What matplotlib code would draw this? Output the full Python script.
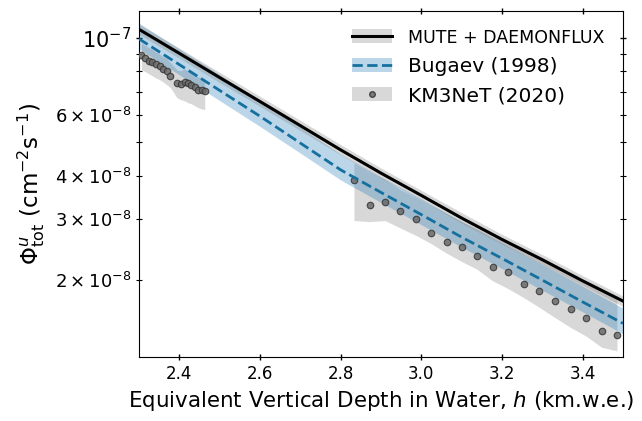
import numpy as np
import matplotlib
matplotlib.use("Agg")
import matplotlib.pyplot as plt
from matplotlib import ticker
from matplotlib.patches import Patch
from matplotlib.lines import Line2D

# model curves, flux in units of 1e-8 cm^-2 s^-1
depth = [2.3, 2.4, 2.5, 2.6, 2.7, 2.8, 2.9, 3.0, 3.1, 3.2, 3.3, 3.4, 3.5]
mute_flux = [10.58, 9.02, 7.68, 6.55, 5.58, 4.75, 4.07, 3.51, 3.02, 2.62, 2.29, 1.99, 1.74]
mute_hi = [10.95, 9.34, 7.95, 6.78, 5.78, 4.92, 4.21, 3.63, 3.13, 2.71, 2.37, 2.06, 1.80]
mute_lo = [10.24, 8.73, 7.43, 6.34, 5.40, 4.60, 3.94, 3.40, 2.92, 2.54, 2.22, 1.93, 1.68]

bugaev_flux = [9.93, 8.37, 7.05, 5.94, 4.97, 4.16, 3.58, 3.09, 2.66, 2.31, 2.00, 1.73, 1.50]
bugaev_hi = [11.02, 9.29, 7.83, 6.59, 5.52, 4.62, 3.97, 3.43, 2.95, 2.56, 2.22, 1.92, 1.66]
bugaev_lo = [9.28, 7.82, 6.59, 5.55, 4.65, 3.89, 3.35, 2.89, 2.49, 2.16, 1.87, 1.62, 1.40]

# KM3NeT (2020), two depth ranges
km3_x1 = [2.306, 2.316, 2.325, 2.333, 2.341, 2.351, 2.359, 2.369, 2.378,
          2.394, 2.403, 2.413, 2.421, 2.430, 2.438, 2.446, 2.455, 2.463]
km3_y1 = [8.93, 8.74, 8.60, 8.49, 8.40, 8.27, 8.13, 8.00, 7.77,
          7.43, 7.37, 7.48, 7.41, 7.32, 7.19, 7.08, 7.05, 7.04]
km3_hi1 = [9.67, 9.48, 9.36, 9.24, 9.11, 8.99, 8.82, 8.70, 8.47,
           8.09, 8.03, 8.14, 8.03, 7.98, 7.82, 7.72, 7.67, 7.62]
km3_lo1 = [8.09, 7.98, 7.87, 7.77, 7.67, 7.57, 7.47, 7.32, 7.18,
           6.72, 6.63, 6.58, 6.50, 6.45, 6.37, 6.29, 6.24, 6.20]

km3_x2 = [2.833, 2.872, 2.910, 2.947, 2.987, 3.024, 3.063, 3.101, 3.138,
          3.177, 3.215, 3.254, 3.292, 3.331, 3.370, 3.408, 3.447, 3.485]
km3_y2 = [3.88, 3.30, 3.37, 3.16, 3.00, 2.74, 2.58, 2.49, 2.35,
          2.18, 2.11, 1.95, 1.86, 1.74, 1.65, 1.56, 1.43, 1.39]
km3_hi2 = [4.36, 4.11, 3.90, 3.65, 3.46, 3.28, 3.11, 2.95, 2.82,
           2.67, 2.55, 2.42, 2.31, 2.19, 2.08, 1.97, 1.87, 1.78]
km3_lo2 = [2.97, 2.95, 2.97, 2.83, 2.69, 2.55, 2.39, 2.26, 2.15,
           1.99, 1.89, 1.78, 1.67, 1.56, 1.46, 1.38, 1.28, 1.25]

labels = ["MUTE + DAEMONFLUX", "Bugaev (1998)", "KM3NeT (2020)"]

scale = 1e-8
blue_line = "#15709f"
blue_band = "#1f78b4"

fig = plt.figure(figsize=(6.42, 4.21), dpi=100)
ax = fig.add_axes([0.2165, 0.152, 0.7539, 0.8219])

# KM3NeT
for x, y, lo, hi in [(km3_x1, km3_y1, km3_lo1, km3_hi1),
                     (km3_x2, km3_y2, km3_lo2, km3_hi2)]:
    ax.fill_between(x, np.array(lo) * scale, np.array(hi) * scale,
                    color="grey", alpha=0.3, lw=0, zorder=1)
    ax.plot(x, np.array(y) * scale, "o", ms=4.7, mfc="#6a6a6a", mec="#333333",
            mew=0.8, alpha=0.85, zorder=3)

# Bugaev
ax.fill_between(depth, np.array(bugaev_lo) * scale, np.array(bugaev_hi) * scale,
                color=blue_band, alpha=0.3, lw=0, zorder=2)
ax.plot(depth, np.array(bugaev_flux) * scale, color=blue_line, lw=2, ls="--", zorder=4)

# MUTE
ax.fill_between(depth, np.array(mute_lo) * scale, np.array(mute_hi) * scale,
                color="grey", alpha=0.3, lw=0, zorder=2)
ax.plot(depth, np.array(mute_flux) * scale, color="black", lw=2.2, zorder=5)

ax.set_yscale("log")
ax.set_xlim(2.3, 3.5)
ax.set_ylim(1.2e-8, 1.195e-7)
ax.yaxis.set_minor_formatter(ticker.LogFormatterSciNotation(minor_thresholds=(2, 0.4)))

ax.tick_params(which="both", direction="inout", top=True, right=True)
ax.tick_params(which="major", length=5, width=1)
ax.tick_params(which="minor", length=4, width=0.8)
ax.tick_params(axis="x", labelsize=12)
ax.tick_params(axis="y", which="major", labelsize=15)
ax.tick_params(axis="y", which="minor", labelsize=13)

ax.set_xlabel(r"Equivalent Vertical Depth in Water, $h$ (km.w.e.)", fontsize=15.4)
ax.set_ylabel(r"$\Phi^{u}_{\mathrm{tot}}$ (cm$^{-2}$s$^{-1}$)", fontsize=16.5, labelpad=6)

h_mute = (Patch(facecolor="grey", alpha=0.3, lw=0), Line2D([], [], color="black", lw=2.2))
h_bug = (Patch(facecolor=blue_band, alpha=0.3, lw=0), Line2D([], [], color=blue_line, lw=2, ls="--"))
h_km3 = (Patch(facecolor="grey", alpha=0.3, lw=0),
         Line2D([], [], marker="o", ls="none", ms=4, mfc="#6a6a6a", mec="#333333", alpha=0.85))
leg = ax.legend([h_mute, h_bug, h_km3], labels, loc="upper right", frameon=False, fontsize=14.5)
leg.get_texts()[0].set_fontsize(12.5)

fig.savefig("out.png", dpi=100)
